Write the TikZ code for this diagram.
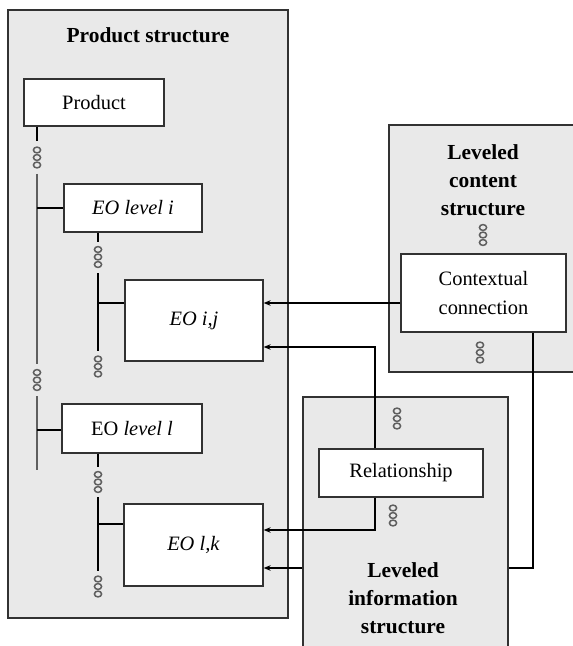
\documentclass[tikz,border=0pt]{standalone}
\usepackage{fontspec}
\setmainfont{Liberation Serif}
\usetikzlibrary{arrows.meta}
\definecolor{panelgray}{RGB}{233,233,233}
\definecolor{edgegray}{RGB}{50,50,50}
\definecolor{maingray}{RGB}{95,95,95}
\tikzset{
  panel/.style={draw=edgegray, line width=1.3bp, fill=panelgray, inner sep=0pt},
  elem/.style={draw=edgegray, line width=1.3bp, fill=white, inner sep=0pt, align=center,
    font=\fontsize{20.5}{29}\selectfont},
  title/.style={font=\fontsize{21.5}{28}\selectfont\bfseries, align=center, inner sep=0pt},
  conn/.style={line width=1.1bp, draw=black},
  mainline/.style={line width=2bp, draw=maingray},
  arr/.style={conn, -{Stealth[length=7bp,width=5.5bp]}},
  pics/ooo/.style={code={
    \foreach \k in {-1,0,1}{\draw[line width=1.5bp, draw=maingray] (0,\k*7.5) ellipse [x radius=3.6bp, y radius=2.9bp];}
  }}
}
\begin{document}
\begin{tikzpicture}[x=1bp,y=-1bp]
\useasboundingbox (0,0) rectangle (573,646);
% ---------- product structure panel
\node[panel, minimum width=280bp, minimum height=608bp] (ps) at (148,314) {};
\node[title] (pst) at (148,35) {Product structure};
\node[elem, minimum width=140bp, minimum height=47bp] (product) at (94,102.5) {Product};
\node[elem, minimum width=138bp, minimum height=48bp] (eoi) at (133,208) {\textit{EO level i}};
\node[elem, minimum width=138bp, minimum height=81bp] (eoij) at (194,320.5) {\textit{EO i,j}};
\node[elem, minimum width=140bp, minimum height=49bp] (eol) at (132,428.5) {EO \textit{level l}};
\node[elem, minimum width=139bp, minimum height=82bp] (eolk) at (193.5,545) {\textit{EO l,k}};
% main vertical line
\draw[conn] (product.south -| 37,0) -- (37,141);
\pic at (37,157.5) {ooo};
\draw[mainline] (37,174) -- (37,364);
\pic at (37,380) {ooo};
\draw[mainline] (37,396) -- (37,470);
\draw[conn] (37,208) -- (eoi.west);
\draw[conn] (37,430) -- (eol.west |- 0,430);
% level i branch
\draw[conn] (eoi.south -| 98,0) -- (98,242);
\pic at (98,257) {ooo};
\draw[conn] (98,273) -- (98,351);
\pic at (98,366.5) {ooo};
\draw[conn] (98,303) -- (eoij.west |- 0,303);
% level l branch
\draw[conn] (eol.south -| 98,0) -- (98,467);
\pic at (98,482) {ooo};
\draw[conn] (98,497) -- (98,571);
\pic at (98,586.5) {ooo};
\draw[conn] (98,524) -- (eolk.west |- 0,524);
% ---------- leveled content structure
\node[panel, minimum width=200bp, minimum height=247bp] (lcs) at (489,248.5) {};
\node[title] (lcst) at (483,180) {Leveled\\content\\structure};
\pic at (483,235) {ooo};
\node[elem, minimum width=165bp, minimum height=78bp] (cc) at (483.5,293) {Contextual\\connection};
\pic at (480,352.5) {ooo};
\draw[arr] (cc.west |- 0,303) -- (eoij.east |- 0,303);
\draw[arr] (cc.south -| 533,0) |- (eolk.east |- 0,568);
% ---------- leveled information structure
\node[panel, minimum width=205bp, minimum height=280bp] (lis) at (405.5,537) {};
\node[title] (list) at (403,598) {Leveled\\information\\structure};
\pic at (397,418.5) {ooo};
\node[elem, minimum width=164bp, minimum height=48bp] (rel) at (401,473) {Relationship};
\pic at (393,515.5) {ooo};
\draw[arr] (rel.north -| 375,0) |- (eoij.east |- 0,347);
\draw[arr] (rel.south -| 375,0) |- (eolk.east |- 0,530);
\end{tikzpicture}
\end{document}
